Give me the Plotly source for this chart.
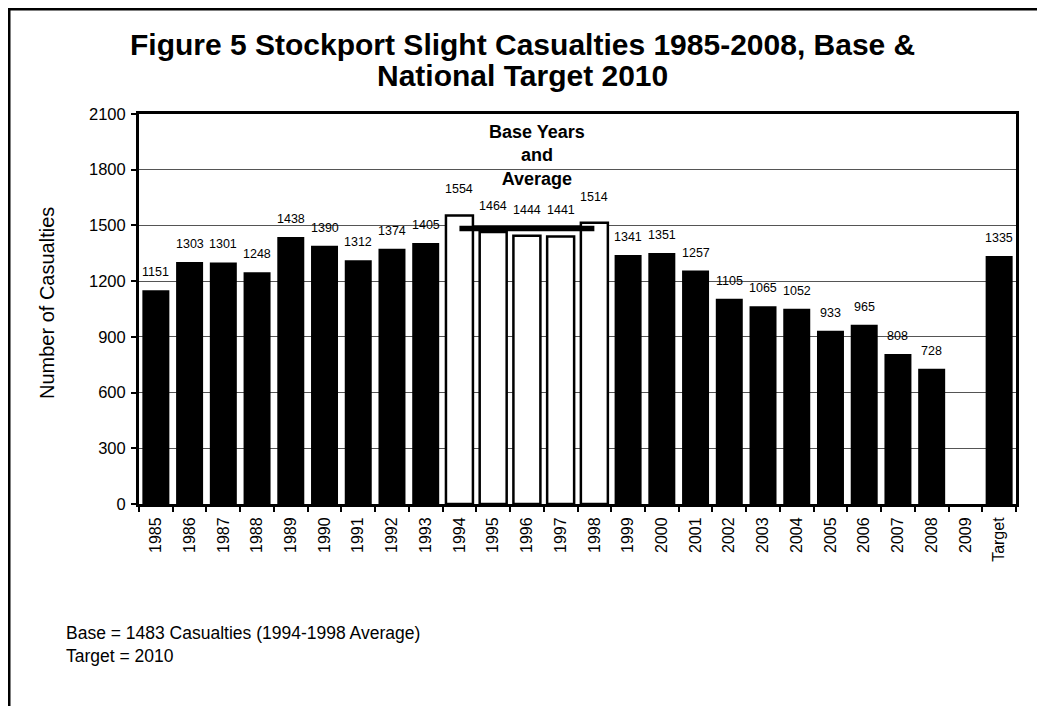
import plotly.graph_objects as go

categories = ["1985", "1986", "1987", "1988", "1989", "1990", "1991", "1992", "1993",
              "1994", "1995", "1996", "1997", "1998", "1999", "2000", "2001", "2002",
              "2003", "2004", "2005", "2006", "2007", "2008", "2009", "Target"]
casualties = [1151, 1303, 1301, 1248, 1438, 1390, 1312, 1374, 1405,
              1554, 1464, 1444, 1441, 1514, 1341, 1351, 1257, 1105,
              1065, 1052, 933, 965, 808, 728, None, 1335]
base_years = ["1994", "1995", "1996", "1997", "1998"]
base_average = 1483
y_ticks = [0, 300, 600, 900, 1200, 1500, 1800, 2100]

OFF = 8  # page body margin
W, H = 1045 - OFF, 706 - OFF
L, R, T, B = 139 - OFF, 29, 114 - OFF, 202
pw, ph = W - L - R, H - T - B


def px_x(x):
    return (x - OFF - L) / pw


def px_y(y):
    return (H - B - (y - OFF)) / ph


FONT = "Liberation Sans, Arial, sans-serif"

colors = ["white" if c in base_years else "black" for c in categories]
line_w = [2.5 if c in base_years else 0 for c in categories]
idx = {c: i for i, c in enumerate(categories)}

fig = go.Figure()
fig.add_trace(go.Bar(
    x=categories, y=casualties,
    marker=dict(color=colors, line=dict(color="black", width=line_w)),
    showlegend=False, hoverinfo="x+y",
))
fig.add_trace(go.Scatter(
    x=[base_years[0], base_years[-1]], y=[base_average, base_average],
    mode="lines", line=dict(color="black", width=5.5),
    showlegend=False, hoverinfo="skip",
))

for c, v in zip(categories, casualties):
    if v is None:
        continue
    fig.add_annotation(
        x=idx[c], y=v, xref="x", yref="y", text=str(v), showarrow=False,
        yanchor="middle", yshift=26 if c in base_years else 18,
        font=dict(family=FONT, size=12.5, color="black"),
    )

fig.add_annotation(
    xref="paper", yref="paper", x=px_x(537), y=px_y(156),
    text="<b>Base Years</b><br><b>and</b><br><b>Average</b>",
    showarrow=False, xanchor="center", yanchor="middle",
    font=dict(family=FONT, size=18, color="black"),
)

# title (two lines)
fig.add_annotation(
    xref="paper", yref="paper", x=px_x(522), y=px_y(45),
    text="<b>Figure 5 Stockport Slight Casualties 1985-2008, Base &</b>",
    showarrow=False, xanchor="center", yanchor="middle",
    font=dict(family=FONT, size=30, color="black"),
)
fig.add_annotation(
    xref="paper", yref="paper", x=px_x(522), y=px_y(76),
    text="<b>National Target 2010</b>",
    showarrow=False, xanchor="center", yanchor="middle",
    font=dict(family=FONT, size=30, color="black"),
)

# y axis title
fig.add_annotation(
    xref="paper", yref="paper", x=px_x(47), y=px_y(303),
    text="Number of Casualties", textangle=-90,
    showarrow=False, xanchor="center", yanchor="middle",
    font=dict(family=FONT, size=20, color="black"),
)

# footnote
fig.add_annotation(
    xref="paper", yref="paper", x=px_x(64), y=px_y(621),
    xanchor="left", yanchor="top", align="left",
    text="Base = 1483 Casualties (1994-1998 Average)<br>Target = 2010",
    showarrow=False, font=dict(family=FONT, size=17.5, color="black"),
)

# outer chart border (left and top visible)
fig.add_shape(type="line", xref="paper", yref="paper",
              x0=px_x(8.5), x1=px_x(8.5), y0=px_y(8.5), y1=px_y(760),
              line=dict(color="black", width=4))
fig.add_shape(type="line", xref="paper", yref="paper",
              x0=px_x(7), x1=px_x(1100), y0=px_y(8.5), y1=px_y(8.5),
              line=dict(color="black", width=4))

fig.update_layout(
    width=W, height=H,
    margin=dict(l=L, r=R, t=T, b=B, autoexpand=False),
    paper_bgcolor="white", plot_bgcolor="white",
    bargap=0.2,
    font=dict(family=FONT, color="black"),
)
fig.update_xaxes(
    type="category", range=[-0.5, len(categories) - 0.5], autorange=False,
    tickangle=-90, tickson="boundaries",
    ticks="outside", ticklen=5, tickwidth=2, tickcolor="black",
    ticklabelstandoff=4,
    showline=True, linewidth=3, linecolor="black", mirror=True,
    showgrid=False, automargin=False,
    tickfont=dict(family=FONT, size=16, color="black"),
)
fig.update_yaxes(
    range=[0, 2100], autorange=False, tickvals=y_ticks,
    ticks="outside", ticklen=5, tickwidth=2, tickcolor="black",
    ticklabelstandoff=2,
    showline=True, linewidth=3, linecolor="black", mirror=True,
    showgrid=True, gridcolor="#555555", gridwidth=1, zeroline=False,
    automargin=False,
    tickfont=dict(family=FONT, size=16.5, color="black"),
)

fig.write_html("out.html")
